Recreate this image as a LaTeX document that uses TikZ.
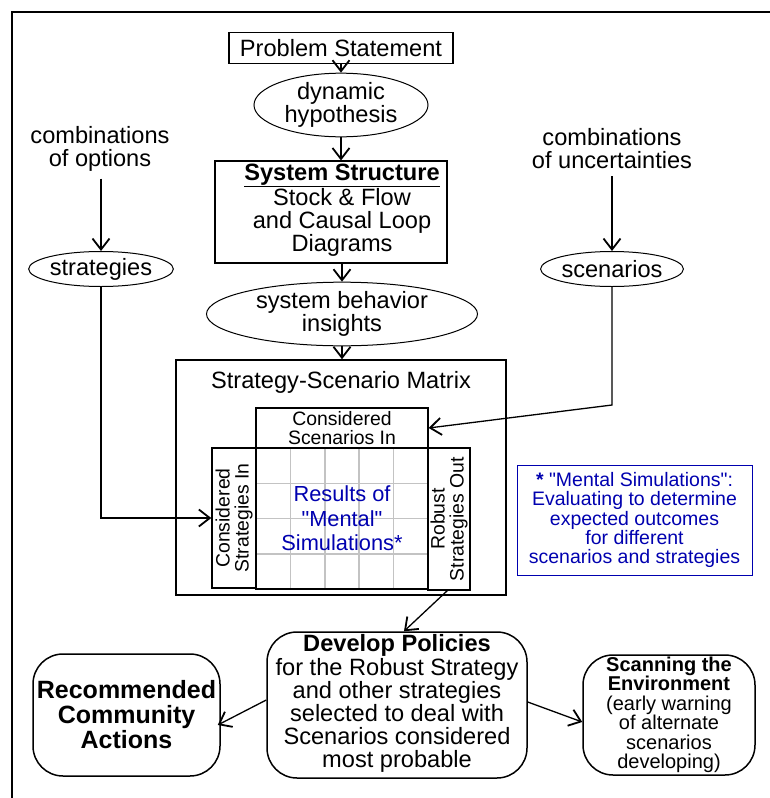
\documentclass[tikz,border=0pt]{standalone}
\usepackage{fontspec}
\setmainfont{Liberation Sans}[Ligatures=TeXOff]
\usetikzlibrary{shapes.geometric,arrows.meta,calc}
\definecolor{noteblue}{RGB}{0,0,175}
\definecolor{gridgray}{RGB}{195,195,195}
\newcommand\fsbig{\fontsize{23.6}{23}\selectfont}
\newcommand\fsres{\fontsize{21.8}{24.5}\selectfont}
\newcommand\fsmid{\fontsize{19.4}{19}\selectfont}
\newcommand\fsnote{\fontsize{19.5}{19.2}\selectfont}
\newcommand\fsscan{\fontsize{20}{19.5}\selectfont}
\newcommand\fsrec{\fontsize{25}{25}\selectfont}
\begin{document}
\begin{tikzpicture}[x=1pt,y=-1pt,
  every node/.style={inner sep=0pt, align=center},
  box/.style={draw, line width=1.1pt},
  oval/.style={draw, ellipse, line width=1pt},
  softbox/.style={draw, rounded corners=30pt, line width=1.5pt},
  conn/.style={line width=1.3pt, -{Straight Barb[length=11pt,width=17pt,line width=1.8pt]}}]

\useasboundingbox (0,0) rectangle (770,798);

% outer frame (top and left edges)
\draw[line width=2pt] (771,12) -- (12,12) -- (12,799);

% central chain
\node[box, minimum width=224pt, minimum height=31pt, font=\fsbig] (ps) at (341,48) {Problem Statement};
\node[oval, minimum width=174pt, minimum height=45pt, font=\fsbig] (dyn) at (341,105) {dynamic\\hypothesis};
\node[box, minimum width=232pt, minimum height=102pt] (sys) at (331,212) {};
\node[font=\fsbig] (systxt) at (342,210) {\underline{\textbf{System Structure}}\\Stock \& Flow\\and Causal Loop\\Diagrams};
\node[oval, minimum width=271pt, minimum height=52pt, font=\fsbig] (sbi) at (342,314) {system behavior\\insights};

\draw[conn] (ps.south) -- (dyn.north);
\draw[conn] (dyn.south) -- (dyn.south |- sys.north);
\draw[conn] (sbi.north |- sys.south) -- (sbi.north);

% strategy-scenario matrix
\node[box, line width=1.5pt, minimum width=330pt, minimum height=235pt] (matrix) at (341,477.5) {};
\node[font=\fsbig] (mtitle) at (341,382) {Strategy-Scenario Matrix};
\draw[conn] (sbi.south) -- (sbi.south |- matrix.north);

\node[box, line width=1.4pt, minimum width=172pt, minimum height=40pt, font=\fsmid] (scin) at (342,428) {Considered\\Scenarios In};

% results grid
\foreach \gx in {290.4,324.8,359.2,393.6}
  \draw[gridgray, line width=1.5pt] (\gx,448) -- (\gx,589);
\foreach \gy in {483.25,518.5,553.75}
  \draw[gridgray, line width=1.5pt] (256,\gy) -- (428,\gy);
\node[box, line width=1.4pt, minimum width=172pt, minimum height=141pt, text=noteblue, font=\fsres] (grid) at (342,518.5) {Results of\\"Mental"\\Simulations*};

\node[box, line width=1.4pt, rotate=90, minimum width=140pt, minimum height=44pt, font=\fsmid] (stin) at (234,518) {Considered\\Strategies In};
\node[box, line width=1.4pt, rotate=90, minimum width=142pt, minimum height=42pt, font=\fsmid] (rob) at (449,519) {Robust\\Strategies Out};

% note
\node[draw=noteblue, line width=1pt, minimum width=235pt, minimum height=110pt, text=noteblue, font=\fsnote] (note) at (634.5,520)
  {\textbf{*} "Mental Simulations":\\Evaluating to determine\\expected outcomes\\for different\\scenarios and strategies};

% side inputs
\node[font=\fsbig] (opts) at (100,149) {combinations\\of options};
\node[oval, minimum width=138pt, minimum height=35pt, font=\fsbig] (strat) at (101,269) {strategies};
\node[font=\fsbig] (unc) at (612,149) {combinations\\of uncertainties};
\node[oval, minimum width=139pt, minimum height=35pt, font=\fsbig] (scen) at (612,269) {scenarios};

\draw[conn] (strat.north |- opts.south) ++(0,7) -- (strat.north);
\draw[conn] (scen.north |- unc.south) ++(0,7) -- (scen.north);
\draw[conn] (strat.south) |- (stin.north);
\coordinate (bend) at (612,405);
\draw[conn] (scen.south) -- (bend) -- (scin.east);

% outcomes
\node[softbox, minimum width=260pt, minimum height=146pt] (dev) at (397,705) {};
\node[font=\fsbig] (devtxt) at (397,703) {\textbf{Develop Policies}\\[1pt]for the Robust Strategy\\and other strategies\\selected to deal with\\Scenarios considered\\most probable};
\node[softbox, minimum width=187pt, minimum height=122pt, font=\bfseries\fsrec] (rec) at (126.5,715) {Recommended\\Community\\Actions};
\node[softbox, minimum width=172pt, minimum height=120pt, font=\fsscan] (scan) at (669,715) {\textbf{Scanning the}\\\textbf{Environment}\\(early warning\\of alternate\\scenarios\\developing)};

\coordinate (mout) at (448,590);
\draw[conn] (mout) -- ($(dev.north)+(7,0)$);
\draw[conn] ($(dev.west)+(0,-5)$) -- ($(rec.east)+(-3,10)$);
\draw[conn] ($(dev.east)+(0,-3)$) -- ($(scan.west)+(0,7)$);

\end{tikzpicture}
\end{document}
